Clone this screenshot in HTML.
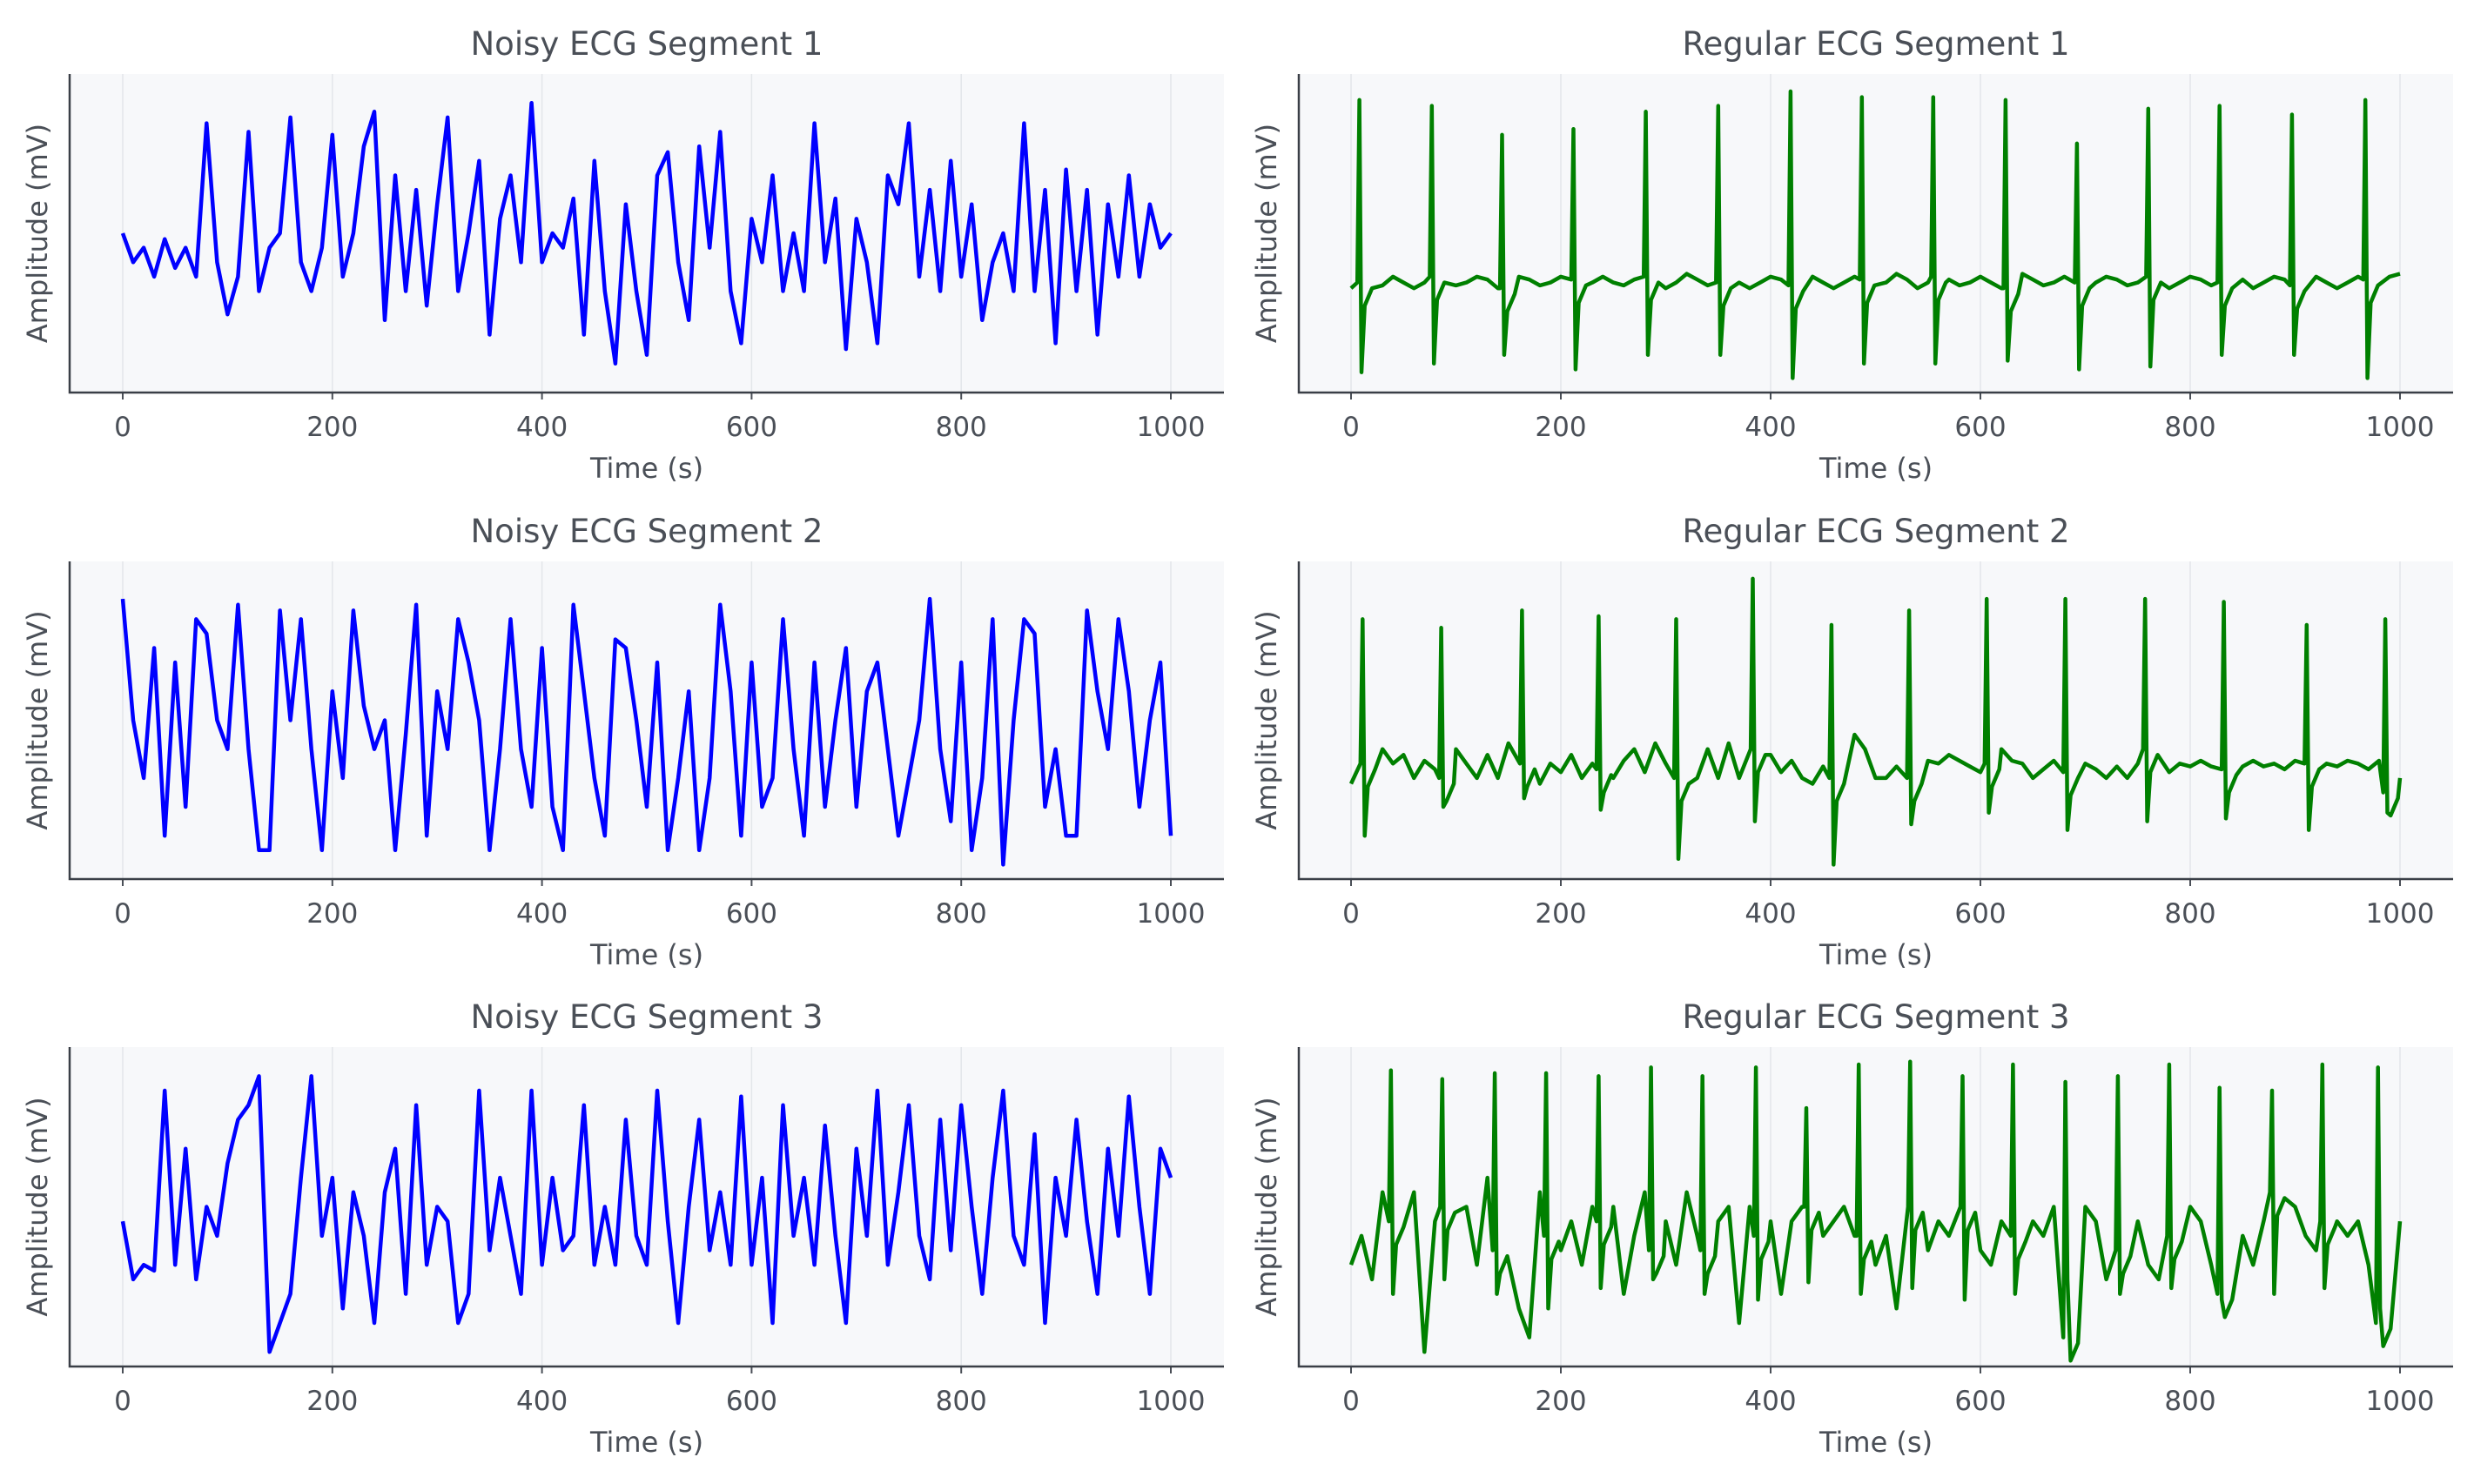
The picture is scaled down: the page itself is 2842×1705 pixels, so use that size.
<!DOCTYPE html>
<html><head><meta charset="utf-8"><style>
body{margin:0;background:#fff;}
svg text{font-family:"DejaVu Sans","Liberation Sans",sans-serif;fill:#4a4f57;}
</style></head><body>
<svg id="chart" width="2842" height="1700" viewBox="0 0 2842 1700" xmlns="http://www.w3.org/2000/svg"></svg>
<script>
const xTicks = [0,200,400,600,800,1000];
const tStep = 10;
const noisy1 = [50,40,45,35,48,38,45,35,88,40,22,35,85,30,45,50,90,40,30,45,84,35,50,80,92,20,70,30,65,25,60,90,30,50,75,15,55,70,40,95,40,50,45,62,15,75,30,5,60,30,8,70,78,40,20,80,45,85,30,12,55,40,70,30,50,30,88,40,62,10,55,40,12,70,60,88,35,65,30,75,35,60,20,40,50,30,88,30,65,12,72,30,65,15,60,35,70,35,60,45,50];
const noisy2 = [92,50,30,75,10,70,20,85,80,50,40,90,40,5,5,88,50,85,40,5,60,30,88,55,40,50,5,45,90,10,60,40,85,70,50,5,40,85,40,20,75,20,5,90,60,30,10,78,75,50,20,70,5,30,60,5,30,90,60,10,70,20,30,85,40,10,70,20,50,75,20,60,70,40,10,30,50,92,40,15,70,5,30,85,0,50,85,80,20,40,10,10,88,60,40,85,60,20,50,70,10];
const noisy3 = [45,25,30,28,90,30,70,25,50,40,65,80,85,95,0,10,20,60,95,40,60,15,55,40,10,55,70,20,85,30,50,45,10,20,90,35,60,40,20,90,30,60,35,40,85,30,50,30,80,40,30,90,45,10,50,80,35,55,30,88,30,60,10,85,40,60,30,78,40,10,70,40,90,30,55,85,40,25,80,35,85,50,20,60,90,40,30,75,10,60,40,80,45,20,70,40,88,50,20,70,60];
const reg1Base = [31,33,34,32,35,33,31,33,35,34,32,33,35,34,31,33,35,34,32,33,35,34,31,33,35,33,32,34,35,33,31,33,36,34,32,33,35,33,31,33,35,34,32,33,35,33,31,33,35,34,32,33,36,34,31,33,35,34,32,33,35,33,31,33,36,34,32,33,35,33,31,33,35,34,32,33,35,34,31,33,35,34,32,33,36,34,31,33,35,34,32,33,35,33,31,33,35,34,32,35,36];
const reg1Beats = [8,77,144,212,281,350,419,487,555,624,692,760,828,897,967];
const reg1R = [96,94,84,86,92,94,99,97,97,96,81,93,94,91,96];
const reg1S = [2,5,8,3,8,8,0,5,5,6,3,4,8,8,0];
const reg2Base = [28,35,30,40,35,38,30,36,33,30,40,35,30,38,30,42,35,30,28,35,32,38,30,35,33,30,36,40,32,42,35,30,35,30,40,30,42,30,40,30,38,32,36,30,28,34,30,28,45,40,30,30,34,30,32,36,35,38,36,34,32,35,40,36,35,30,33,36,32,34,35,33,30,34,30,35,40,38,32,35,34,36,34,33,35,34,36,34,35,33,36,35,34,35,34,36,35,33,36,25,30];
const reg2Beats = [11,86,163,236,310,383,458,532,606,681,757,832,911,986];
const reg2R = [85,82,88,86,85,99,83,88,92,92,92,91,83,85];
const reg2S = [10,20,23,19,2,15,0,14,18,12,15,16,12,18];
const reg3Base = [30,40,25,55,45,20,55,0,45,50,40,50,30,60,35,50,15,5,55,40,35,45,30,50,45,50,20,40,55,35,45,30,55,40,35,45,50,10,50,40,45,20,45,50,30,40,45,50,40,50,30,40,15,50,40,35,45,40,50,40,35,30,45,40,50,45,40,50,5,35,50,45,25,35,60,45,30,25,40,15,50,45,30,20,45,40,30,45,55,20,50,40,35,45,45,40,45,30,10,35,45];
const reg3Beats = [38,87,137,186,236,286,335,386,434,484,533,583,631,681,731,780,828,878,926,979];
const reg3R = [97,94,96,96,95,98,95,98,84,99,100,95,99,93,95,99,91,90,99,98];
const reg3S = [20,25,20,15,22,25,20,18,24,20,22,18,20,25,20,22,18,20,22,15];

const NS='http://www.w3.org/2000/svg';
const svg=document.getElementById('chart');
function mk(tag,attrs,parent){const e=document.createElementNS(NS,tag);for(const k in attrs)e.setAttribute(k,attrs[k]);(parent||svg).appendChild(e);return e;}

function sampled(arr){return arr.map((v,i)=>[i*tStep,v]);}
function withBeats(base,beats,R,S){
  let pts=sampled(base).filter(p=>!beats.some(b=>p[0]>=b-3&&p[0]<=b+13));
  const bAt=t=>{const i=Math.min(base.length-1,Math.round(t/tStep));return base[i];};
  beats.forEach((b,i)=>{const bv=bAt(b);
    pts.push([b-2,bv],[b,R[i]],[b+2,S[i]],[b+5,bv-8],[b+12,bv-2]);});
  pts.sort((a,b)=>a[0]-b[0]);
  return pts.filter(p=>p[0]>=0&&p[0]<=1000);
}

const cols=[{L:80,R:1406,x0:141,x1:1345},{L:1492,R:2818,x0:1552,x1:2757}];
const rows=[{T:85,B:451},{T:645,B:1010},{T:1203,B:1570}];
const panels=[
 {r:0,c:0,title:'Noisy ECG Segment 1',pts:sampled(noisy1),color:'#0000ff',name:'noisy-1'},
 {r:0,c:1,title:'Regular ECG Segment 1',pts:withBeats(reg1Base,reg1Beats,reg1R,reg1S),color:'#008000',name:'regular-1'},
 {r:1,c:0,title:'Noisy ECG Segment 2',pts:sampled(noisy2),color:'#0000ff',name:'noisy-2'},
 {r:1,c:1,title:'Regular ECG Segment 2',pts:withBeats(reg2Base,reg2Beats,reg2R,reg2S),color:'#008000',name:'regular-2'},
 {r:2,c:0,title:'Noisy ECG Segment 3',pts:sampled(noisy3),color:'#0000ff',name:'noisy-3'},
 {r:2,c:1,title:'Regular ECG Segment 3',pts:withBeats(reg3Base,reg3Beats,reg3R,reg3S),color:'#008000',name:'regular-3'}
];
panels.forEach(p=>{
  const c=cols[p.c],r=rows[p.r];
  const g=mk('g',{});
  
  
  const xs=t=>c.x0+(c.x1-c.x0)*t/1000;
  const ys=v=>r.B-(r.B-r.T)*(v+5)/110;
  const bg=mk('rect',{x:c.L,y:r.T,width:c.R-c.L,height:r.B-r.T,fill:'#f7f8fa'},g);
  
  
  xTicks.forEach(t=>{
    const gl=mk('line',{x1:xs(t),x2:xs(t),y1:r.T,y2:r.B,stroke:'#e3e6ea','stroke-width':1.5},g);
    
    
    const tk=mk('line',{x1:xs(t),x2:xs(t),y1:r.B,y2:r.B+8,stroke:'#4a4f57','stroke-width':2},g);
    
    
    const tl=mk('text',{x:xs(t),y:r.B+50,'text-anchor':'middle','font-size':31},g);
    tl.textContent=t;
    
    
  });
  const line=mk('polyline',{points:p.pts.map(q=>xs(q[0]).toFixed(1)+','+ys(q[1]).toFixed(1)).join(' '),fill:'none',stroke:p.color,'stroke-width':4.5,'stroke-linejoin':'round'},g);
  
  
  const ax=mk('path',{d:`M${c.L},${r.T} L${c.L},${r.B} L${c.R},${r.B}`,fill:'none',stroke:'#3a3f47','stroke-width':2.5},g);
  
  
  const tt=mk('text',{x:(c.L+c.R)/2,y:r.T-22,'text-anchor':'middle','font-size':37},g);
  tt.textContent=p.title;
  
  
  const xl=mk('text',{x:(c.L+c.R)/2,y:r.B+98,'text-anchor':'middle','font-size':32},g);
  xl.textContent='Time (s)';
  
  
  const yx=c.L-26,yy=(r.T+r.B)/2;
  const yl=mk('text',{x:yx,y:yy,'text-anchor':'middle','font-size':32,transform:`rotate(-90 ${yx} ${yy})`},g);
  yl.textContent='Amplitude (mV)';
  
  
});
</script>
</body></html>
